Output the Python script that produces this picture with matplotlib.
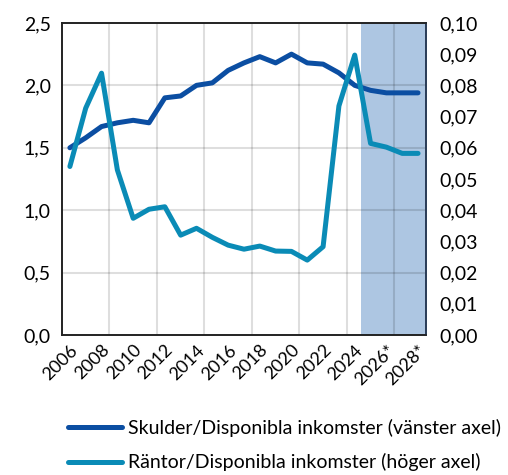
import numpy as np
import matplotlib.pyplot as plt

plt.rcParams['font.family'] = ['Lato', 'DejaVu Sans']

# Data
years = ['2006', '2007', '2008', '2009', '2010', '2011', '2012', '2013', '2014',
         '2015', '2016', '2017', '2018', '2019', '2020', '2021', '2022', '2023',
         '2024', '2025*', '2026*', '2027*', '2028*']
skulder = [1.50, 1.58, 1.67, 1.70, 1.72, 1.70, 1.90, 1.915, 2.00, 2.02, 2.12,
           2.18, 2.23, 2.18, 2.25, 2.18, 2.17, 2.10, 2.00, 1.96, 1.94, 1.94, 1.94]
rantor = [0.054, 0.0727, 0.0839, 0.0529, 0.0374, 0.0403, 0.0411, 0.032, 0.0342,
          0.0313, 0.0288, 0.0275, 0.0285, 0.0269, 0.0268, 0.0240, 0.0283, 0.0734,
          0.0897, 0.0614, 0.0602, 0.0582, 0.0582]
left_ticks = [0.0, 0.5, 1.0, 1.5, 2.0, 2.5]
right_ticks = [0.00, 0.01, 0.02, 0.03, 0.04, 0.05, 0.06, 0.07, 0.08, 0.09, 0.10]
first_forecast = 19

dark = '#0b4ea2'
teal = '#0a8bb6'

fig = plt.figure(figsize=(5.08, 4.75), dpi=100)
ax = fig.add_axes([0.122, 0.2947, 0.7165, 0.657])
ax2 = ax.twinx()

x = np.arange(len(years))

# forecast shading
ax.axvspan(first_forecast - 0.6, len(years) - 0.5, color='#adc6e2', zorder=0.5, lw=0)

l1, = ax.plot(x, skulder, color=dark, lw=3.6, solid_capstyle='round', zorder=3,
              label='Skulder/Disponibla inkomster (vänster axel)')
l2, = ax2.plot(x, rantor, color=teal, lw=3.6, solid_capstyle='round', zorder=3,
               label='Räntor/Disponibla inkomster (höger axel)')

ax.set_xlim(-0.5, len(years) - 0.5)
ax.set_ylim(0, 2.5)
ax2.set_ylim(0, 0.10)

# gridlines (semi-transparent so they show through the shading)
for v in left_ticks[1:-1]:
    ax.axhline(v, color='black', alpha=0.13, lw=1.5, zorder=1)
for b in np.arange(2.5, len(years) - 1, 3):
    ax.axvline(b, color='black', alpha=0.13, lw=1.5, zorder=1)

ax.set_yticks(left_ticks)
ax.set_yticklabels([f'{v:.1f}'.replace('.', ',') for v in left_ticks], fontsize=14)
ax2.set_yticks(right_ticks)
ax2.set_yticklabels([f'{v:.2f}'.replace('.', ',') for v in right_ticks], fontsize=14)

shown = list(range(0, len(years), 2))
ax.set_xticks(shown)
ax.set_xticklabels([years[i] for i in shown], rotation=45, ha='right',
                   rotation_mode='anchor', fontsize=13)

ax.tick_params(axis='y', length=0, pad=8)
ax2.tick_params(axis='y', length=0, pad=10)
ax.tick_params(axis='x', length=0, pad=5)

for a in (ax, ax2):
    for s in a.spines.values():
        s.set_color('#222222')
        s.set_linewidth(1.2)
ax2.spines['right'].set_color('#2a3f5f')

ax.set_zorder(ax2.get_zorder() - 1)
ax2.patch.set_visible(False)

fig.legend(handles=[l1, l2], loc='upper left', bbox_to_anchor=(0.118, 0.135),
           frameon=False, fontsize=14, handlelength=2.8, handletextpad=0.3,
           labelspacing=0.85, borderaxespad=0)

fig.savefig('out.png', dpi=100)
